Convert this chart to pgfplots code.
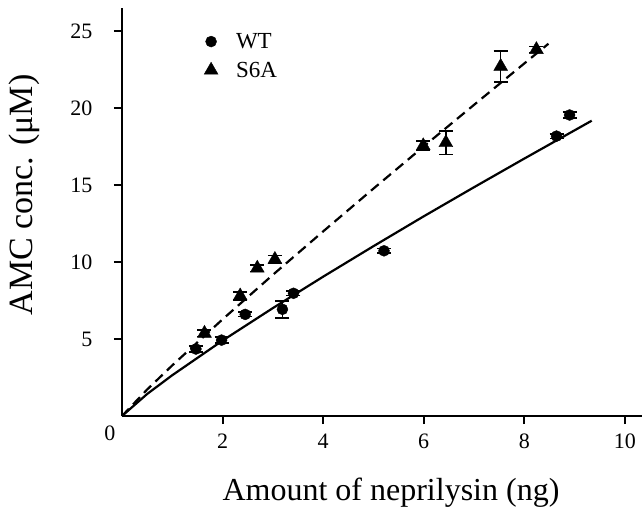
\documentclass[border=0pt]{standalone}
\usepackage{fontspec}
\setmainfont{Liberation Serif}
\usepackage{pgfplots}
\pgfplotsset{compat=1.18}
\usetikzlibrary{calc}

\pgfplotstableread{
x     y      e
1.47  4.35   0.20
1.98  4.93   0.20
2.45  6.60   0.15
3.19  6.93   0.55
3.41  7.97   0.15
5.21  10.73  0.15
8.64  18.18  0.15
8.90  19.55  0.20
}\wt

\pgfplotstableread{
x     y      e
1.64  5.37   0.20
2.35  7.80   0.25
2.69  9.60   0.20
3.04  10.17  0.25
5.99  17.55  0.30
6.44  17.75  0.75
7.53  22.70  1.00
8.24  23.80  0.20
}\sixa

\begin{document}
\begin{tikzpicture}
\begin{axis}[
    scale only axis,
    width=520pt,
    height=408pt,
    xmin=0, xmax=10.34,
    ymin=0, ymax=26.5,
    axis x line=bottom,
    axis y line=left,
    axis line style={-, line width=2pt},
    xtick={2,4,6,8,10},
    ytick={5,10,15,20,25},
    tick align=outside,
    major tick length=8pt,
    tick style={line width=2pt, black},
    tick label style={font=\fontsize{22}{24}\selectfont},
    /pgf/number format/assume math mode=true,
    xticklabel style={yshift=-6pt},
    yticklabel style={xshift=-18pt},
    clip=false,
    legend style={at={(axis cs:1.63,25.0)}, anchor=north west, draw=none,
        fill=none, font=\fontsize{23}{26}\selectfont, row sep=8pt,
        inner sep=0pt},
    legend cell align=left,
    legend image code/.code={\draw[mark repeat=2, mark phase=2, #1]
        plot coordinates {(0pt,0pt) (8pt,0pt) (16pt,0pt)};},
]

% fitted curves
\addplot[line width=2.2pt, black, forget plot] coordinates {
(0,0) (0.5,1.43) (1,2.65) (2,4.90) (3,7.01) (4,9.05) (5,11.03)
(6,12.97) (7,14.86) (8,16.72) (9.34,19.18)
};
\addplot[line width=2.2pt, black, dash pattern=on 10pt off 6pt, forget plot] coordinates {
(0,0) (0.5,1.72) (1,3.29) (2,6.28) (3,9.17) (4,11.99) (5,14.77)
(6,17.51) (7,20.21) (8,22.90) (8.48,24.18)
};

% data
\addplot[only marks, mark=*, mark size=5.5pt, black,
    error bars/.cd, y dir=both, y explicit,
    error mark options={rotate=90, mark size=7pt, line width=1.5pt},
    error bar style={line width=1.5pt}]
    table[x=x, y=y, y error=e] {\wt};
\addlegendentry{\hspace{16pt}WT}

\addplot[only marks, mark=triangle*, mark size=8pt, black,
    error bars/.cd, y dir=both, y explicit,
    error mark options={rotate=90, mark size=7pt, line width=1.5pt},
    error bar style={line width=1.5pt}]
    table[x=x, y=y, y error=e] {\sixa};
\addlegendentry{\hspace{16pt}S6A}

\node[font=\fontsize{22}{24}\selectfont] at ($(axis cs:0,0)+(-12pt,-17pt)$) {0};
\node[font=\fontsize{32}{36}\selectfont, anchor=base] at ($(axis cs:0,0)+(269pt,-84pt)$) {Amount of neprilysin (ng)};
\node[font=\fontsize{34}{38}\selectfont, rotate=90] at ($(axis cs:0,0)+(-98pt,221pt)$) {AMC conc. (μM)};
\end{axis}
\pgfresetboundingbox
\path ($(current axis.south west)+(-122pt,-94pt)$) rectangle ($(current axis.north east)+(0pt,8pt)$);
\end{tikzpicture}
\end{document}
